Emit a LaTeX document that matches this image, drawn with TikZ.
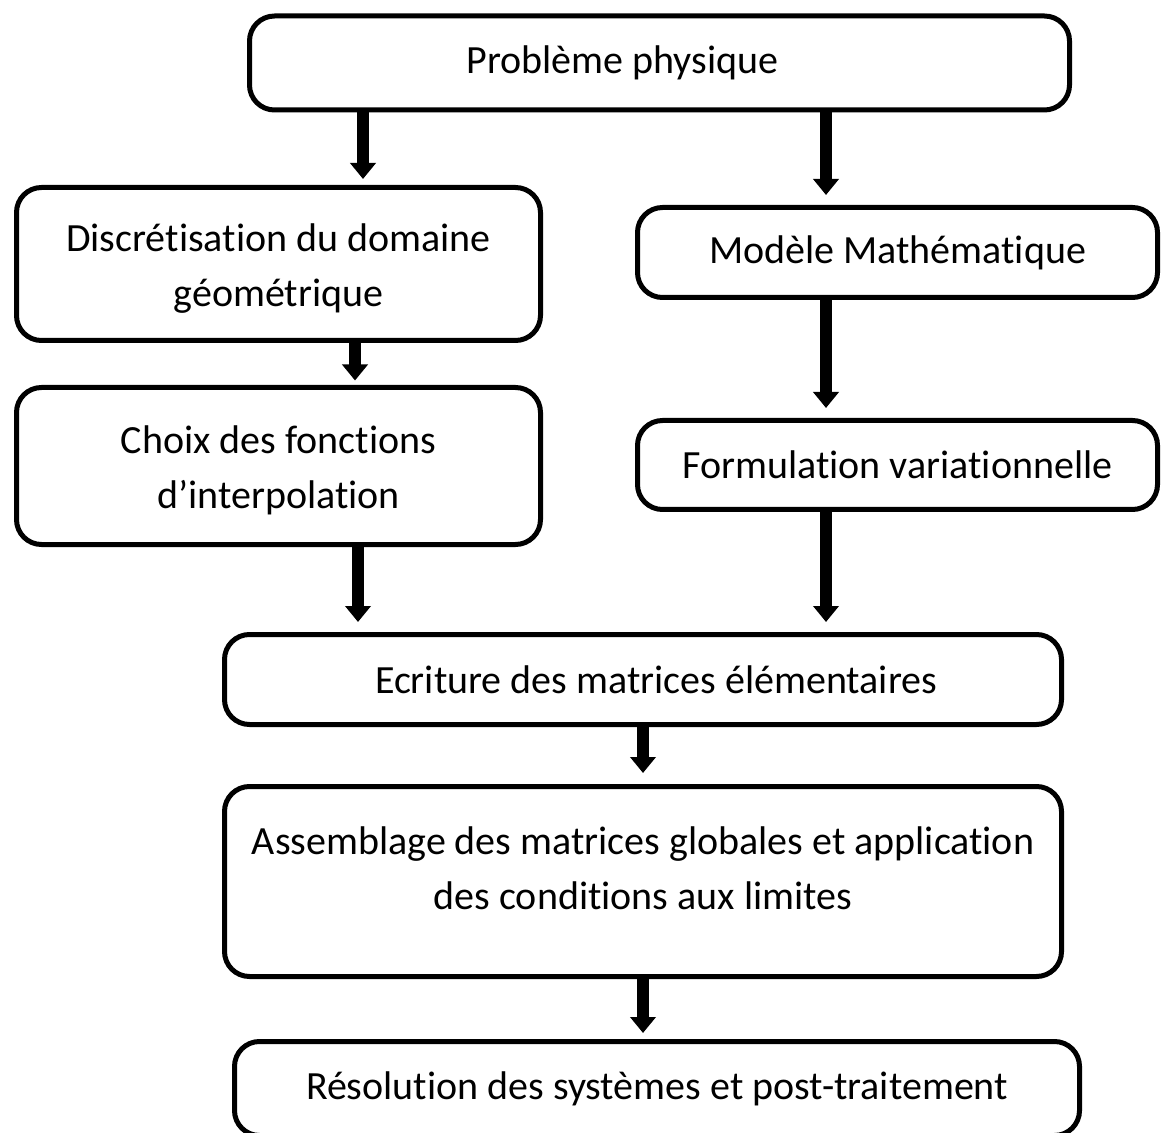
\documentclass[tikz,border=0pt]{standalone}
\usepackage{fontspec}
\setmainfont{Carlito}[Ligatures=CommonOff]
\usetikzlibrary{arrows.meta}

\begin{document}
\begin{tikzpicture}[x=0.5pt, y=-0.5pt,
    font=\fontsize{20}{27.5}\selectfont,
    bloc/.style={draw, line width=2.5pt, rounded corners=12.5pt, align=center, inner sep=0pt},
    fleche/.style={line width=6pt, -{Triangle[width=12.5pt,length=8pt]}, shorten >=#1},
    fleche/.default=5pt]
\useasboundingbox (0,0) rectangle (1161,1133);
\node[bloc, minimum width=410pt, minimum height=47pt,
    label={[xshift=-18.5pt]center:Problème physique}] (pb) at (659.5,63) {};
\node[bloc, minimum width=262pt, minimum height=76.5pt,
    label={[align=center, yshift=-2.5pt]center:{Discrétisation du domaine\\géométrique}}] (disc) at (278.5,264) {};
\node[bloc, minimum width=260pt, minimum height=45pt] (modele) at (897.5,252.5) {Modèle Mathématique};
\node[bloc, minimum width=262pt, minimum height=78.5pt,
    label={[align=center, yshift=-2pt]center:{Choix des fonctions\\d’interpolation}}] (choix) at (278.5,466) {};
\node[bloc, minimum width=260pt, minimum height=44.5pt] (form) at (897.5,465) {Formulation variationnelle};
\node[bloc, minimum width=418.5pt, minimum height=45pt,
    label={[xshift=6.5pt]center:Ecriture des matrices élémentaires}] (ecr) at (643,679.5) {};
\node[bloc, minimum width=418.5pt, minimum height=95pt,
    label={[align=center, yshift=6.5pt]center:{Assemblage des matrices globales et application\\des conditions aux limites}}] (assem) at (643,881.5) {};
\node[bloc, minimum width=422.5pt, minimum height=47pt] (reso) at (657,1088.5) {Résolution des systèmes et post-traitement};

% fleches
\draw[fleche=3pt] (pb.south -| 363,0) -- (disc.north -| 363,0);
\draw[fleche] (pb.south -| 826,0) -- (modele.north -| 826,0);
\draw[fleche=2.25pt] (disc.south -| 355,0) -- (choix.north -| 355,0);
\draw[fleche] (modele.south -| 826,0) -- (form.north -| 826,0);
\draw[fleche] (choix.south -| 358,0) -- (ecr.north -| 358,0);
\draw[fleche] (form.south -| 826,0) -- (ecr.north -| 826,0);
\draw[fleche=5.5pt] (ecr.south) -- (assem.north);
\draw[fleche=3pt] (assem.south) -- (assem.south |- reso.north);
\end{tikzpicture}
\end{document}
